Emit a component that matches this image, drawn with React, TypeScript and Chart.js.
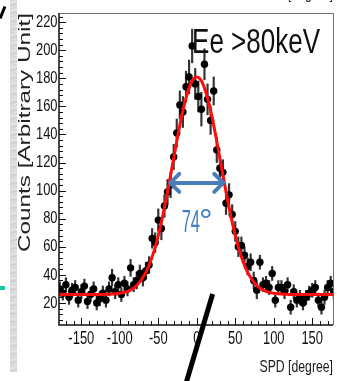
import React, { useEffect, useRef } from "react";
import { Chart, registerables } from "chart.js";
Chart.register(...registerables);

// ---- data ----
const angles = [
  -178, -174, -170, -166, -162, -158, -154, -150, -146, -142,
  -138, -134, -130, -126, -122, -118, -114, -110, -106, -102,
  -98, -94, -90, -86, -82, -78, -74, -70, -66, -62,
  -58, -54, -50, -46, -42, -38, -34, -30, -26, -22,
  -18, -14, -10, -6, -2, 2, 6, 10, 14, 18,
  22, 26, 30, 34, 38, 42, 46, 50, 54, 58,
  62, 66, 70, 74, 78, 82, 86, 90, 94, 98,
  102, 106, 110, 114, 118, 122, 126, 130, 134, 138,
  142, 146, 150, 154, 158, 162, 166, 170, 174, 178,
];
const counts = [
  30, 27, 33, 24, 29, 31, 22, 28, 32, 21,
  26, 30, 20, 23, 27, 22, 30, 38, 28, 33,
  26, 34, 30, 45, 33, 36, 41, 38, 43, 47,
  66, 63, 79, 73, 89, 99, 104, 124, 141, 161,
  156, 174, 181, 203, 176, 167, 158, 190, 165, 150,
  171, 129, 116, 113, 91, 97, 83, 71, 60, 61,
  54, 46, 49, 36, 29, 49, 33, 34, 31, 41,
  22, 31, 31, 28, 33, 17, 28, 22, 24, 20,
  24, 27, 29, 31, 22, 17, 24, 31, 34, 28,
];
const errors = [
  5, 5, 5, 5, 5, 5, 5, 5, 5, 5,
  5, 5, 5, 5, 5, 5, 5, 6, 5, 5,
  5, 5, 5, 6, 5, 6, 6, 6, 6, 6,
  7, 7, 8, 8, 8, 9, 9, 9, 10, 10,
  11, 11, 12, 12, 11, 11, 12, 11, 11, 10,
  10, 9, 9, 9, 8, 8, 7, 7, 7, 6,
  6, 6, 6, 6, 6, 5, 5, 5, 5, 5,
  5, 5, 5, 5, 5, 5, 5, 5, 5, 5,
  5, 5, 5, 5, 5, 5, 5, 5, 5, 5,
];
const fitAngles = [
  -180, -170, -160, -150, -140, -130, -120, -110, -100, -95,
  -90, -85, -80, -75, -70, -65, -60, -55, -50, -45,
  -40, -35, -30, -25, -20, -15, -10, -5, 0, 5,
  10, 15, 20, 25, 30, 35, 40, 45, 50, 55,
  60, 65, 70, 75, 80, 85, 90, 95, 100, 110,
  120, 130, 140, 150, 160, 170, 180,
];
const fitValues = [
  26, 26, 26, 26, 26, 26, 26.1, 26.3, 26.9, 27.4,
  28.3, 29.6, 31.5, 34.3, 38.1, 43, 49.8, 58, 68.2, 80,
  93.4, 108, 123, 138, 152, 164, 173, 179, 181, 179,
  173, 164, 152, 138, 123, 108, 93.4, 80, 68.2, 58,
  49.8, 43, 38.1, 34.3, 31.5, 29.6, 28.3, 27.4, 26.9, 26.3,
  26.1, 26, 26, 26, 26, 26, 26,
];
const xTickValues = [-150, -100, -50, 0, 50, 100, 150];
const yTickValues = [20, 40, 60, 80, 100, 120, 140, 160, 180, 200, 220];

const X_MIN = -179;
const X_MAX = 177;
const Y_MIN = 4.3;
const Y_MAX = 226.5;

// annotation
const ARROW_FROM = -37;
const ARROW_TO = 37;
const ARROW_Y = 105.5;
const WIDTH_LABEL_X = -1;
const WIDTH_LABEL_Y = 70.7;
const widthLabel = "74";
const energyLabel = "Ee >80keV";
const xTitle = "SPD [degree]";
const yTitle = "Counts [Arbitrary Unit]";

const SANS = '"Liberation Sans", Arial, sans-serif';

function squeezedText(ctx: any, text: string, x: number, y: number, size: number, sx: number, sy: number, align: string, baseline: string) {
  ctx.save();
  ctx.translate(x, y);
  ctx.scale(sx, sy);
  ctx.font = `${size}px ${SANS}`;
  ctx.textAlign = align;
  ctx.textBaseline = baseline;
  ctx.fillText(text, 0, 0);
  ctx.restore();
}

const rootFrame = {
  id: "rootFrame",
  afterDatasetsDraw(chart: any) {
    const { ctx, chartArea, scales } = chart;
    const { left, right, top, bottom } = chartArea;
    const x = scales.x;
    const y = scales.y;
    ctx.save();
    // top/right frame
    ctx.strokeStyle = "#707070";
    ctx.lineWidth = 1;
    ctx.beginPath();
    ctx.moveTo(left, top + 0.5);
    ctx.lineTo(right + 0.5, top + 0.5);
    ctx.lineTo(right + 0.5, bottom);
    ctx.stroke();
    // axes
    ctx.strokeStyle = "#111";
    ctx.lineWidth = 1.5;
    ctx.beginPath();
    ctx.moveTo(left, top);
    ctx.lineTo(left, bottom);
    ctx.lineTo(right, bottom);
    ctx.stroke();
    // ticks
    ctx.lineWidth = 1;
    ctx.beginPath();
    for (let v = 8; v <= Y_MAX; v += 4) {
      const py = Math.round(y.getPixelForValue(v)) + 0.5;
      const len = v % 20 === 0 ? 7 : 4;
      ctx.moveTo(left, py);
      ctx.lineTo(left + len, py);
    }
    for (let v = -170; v <= X_MAX; v += 10) {
      const px = Math.round(x.getPixelForValue(v)) + 0.5;
      const len = v % 50 === 0 ? 7 : 4;
      ctx.moveTo(px, bottom);
      ctx.lineTo(px, bottom - len);
    }
    ctx.stroke();

    // tick labels (narrow, like the reference)
    ctx.fillStyle = "#111";
    for (const v of yTickValues) {
      squeezedText(ctx, String(v), left - 1.5, y.getPixelForValue(v), 17, 0.76, 1, "right", "middle");
    }
    for (const v of xTickValues) {
      squeezedText(ctx, String(v), x.getPixelForValue(v), bottom + 19, 17.5, 0.74, 1, "center", "alphabetic");
    }
    // x title
    ctx.fillStyle = "#1a1a1a";
    squeezedText(ctx, xTitle, right, 372, 17, 0.72, 1, "right", "alphabetic");
    // cut-off title of the plot above
    ctx.fillStyle = "#333";
    squeezedText(ctx, xTitle, right, -1, 17, 0.72, 1, "right", "alphabetic");
    ctx.restore();
  },
};

const annotations = {
  id: "annotations",
  afterDraw(chart: any) {
    const { ctx, chartArea, scales } = chart;
    const x = scales.x;
    const y = scales.y;
    ctx.save();
    // arrow
    const x1 = x.getPixelForValue(ARROW_FROM);
    const x2 = x.getPixelForValue(ARROW_TO);
    const ay = y.getPixelForValue(ARROW_Y);
    ctx.strokeStyle = "#4a7ebb";
    ctx.lineWidth = 4;
    ctx.lineCap = "round";
    ctx.lineJoin = "round";
    ctx.beginPath();
    ctx.moveTo(x1 + 2, ay);
    ctx.lineTo(x2 - 2, ay);
    ctx.moveTo(x1 + 11, ay - 9);
    ctx.lineTo(x1 + 2, ay);
    ctx.lineTo(x1 + 11, ay + 9);
    ctx.moveTo(x2 - 11, ay - 9);
    ctx.lineTo(x2 - 2, ay);
    ctx.lineTo(x2 - 11, ay + 9);
    ctx.stroke();

    // 74°
    const lx = x.getPixelForValue(WIDTH_LABEL_X);
    const ly = y.getPixelForValue(WIDTH_LABEL_Y);
    ctx.fillStyle = "#3f7fc4";
    squeezedText(ctx, widthLabel, lx + 4, ly, 22, 0.75, 1.45, "right", "alphabetic");
    ctx.font = `34px ${SANS}`;
    ctx.textAlign = "left";
    ctx.textBaseline = "alphabetic";
    ctx.fillText("°", lx + 3, ly);

    // Ee > 80keV
    ctx.fillStyle = "#111";
    squeezedText(ctx, energyLabel, chartArea.right - 13, chartArea.top + 40, 26, 1, 1.32, "right", "alphabetic");

    // y axis title (stretched along its length, aligned to top)
    ctx.save();
    ctx.fillStyle = "#222";
    ctx.translate(30, chartArea.top);
    ctx.rotate(-Math.PI / 2);
    ctx.scale(1.43, 1);
    ctx.font = `17px ${SANS}`;
    ctx.textAlign = "right";
    ctx.textBaseline = "alphabetic";
    ctx.fillText(yTitle, 0, 0);
    ctx.restore();
    ctx.restore();
  },
};

export default function App() {
  const canvasRef = useRef<HTMLCanvasElement | null>(null);

  useEffect(() => {
    if (!canvasRef.current) return;
    const chart = new Chart(canvasRef.current, {
      type: "scatter",
      data: {
        datasets: [
          {
            type: "line",
            label: "fit",
            data: fitAngles.map((a, i) => ({ x: a, y: fitValues[i] })),
            borderColor: "#ff0d0d",
            borderWidth: 3,
            pointRadius: 0,
            cubicInterpolationMode: "monotone",
            fill: false,
            order: 0,
          } as any,
          {
            type: "scatter",
            label: "data",
            data: angles.map((a, i) => ({ x: a, y: counts[i] })),
            backgroundColor: "#000",
            borderWidth: 0,
            pointRadius: 3.7,
            order: 1,
          } as any,
          {
            type: "bar",
            label: "errors",
            data: angles.map((a, i) => ({ x: a, y: [counts[i] - errors[i], counts[i] + errors[i]] })),
            backgroundColor: "#333",
            borderWidth: 0,
            barThickness: 1.5,
            grouped: false,
            order: 2,
          } as any,
        ],
      },
      options: {
        animation: false,
        responsive: true,
        maintainAspectRatio: false,
        events: [],
        layout: { padding: { top: 13, right: 4, left: 0, bottom: 0 } },
        plugins: { legend: { display: false }, tooltip: { enabled: false } },
        scales: {
          x: {
            type: "linear",
            offset: false,
            min: X_MIN,
            max: X_MAX,
            grid: { display: false, drawTicks: false, offset: false },
            border: { display: false },
            afterBuildTicks: (s: any) => {
              s.ticks = xTickValues.map((v) => ({ value: v }));
            },
            afterFit: (s: any) => {
              s.height = 56;
            },
            ticks: { display: false },
          },
          y: {
            type: "linear",
            min: Y_MIN,
            max: Y_MAX,
            grid: { display: false, drawTicks: false },
            border: { display: false },
            afterBuildTicks: (s: any) => {
              s.ticks = yTickValues.map((v) => ({ value: v }));
            },
            afterFit: (s: any) => {
              s.width = 59;
            },
            ticks: { display: false },
          },
        },
      } as any,
      plugins: [rootFrame, annotations],
    });
    return () => chart.destroy();
  }, []);

  return (
    <div style={{ position: "absolute", left: 0, top: 0, width: 337, height: 381, background: "#fff", overflow: "hidden" }}>
      <div
        style={{
          position: "absolute",
          left: 10,
          top: 0,
          width: 7,
          height: 372,
          background:
            "repeating-linear-gradient(170deg, #d4d4d4 0px, #e6e6e6 3px, #cfcfcf 5px, #e2e2e2 8px)",
        }}
      />
      <div style={{ position: "absolute", left: 1, top: 6, width: 3, height: 13, background: "#000", transform: "rotate(22deg)" }} />
      <div style={{ position: "absolute", left: 0, top: 286, width: 5, height: 4, background: "#1fc4a0" }} />
      <div style={{ position: "absolute", left: 0, top: 0, width: 337, height: 381 }}>
        <canvas ref={canvasRef} />
      </div>
      <div
        style={{
          position: "absolute",
          left: 197,
          top: 292,
          width: 4.5,
          height: 92,
          background: "#000",
          transform: "rotate(16.6deg)",
        }}
      />
    </div>
  );
}
